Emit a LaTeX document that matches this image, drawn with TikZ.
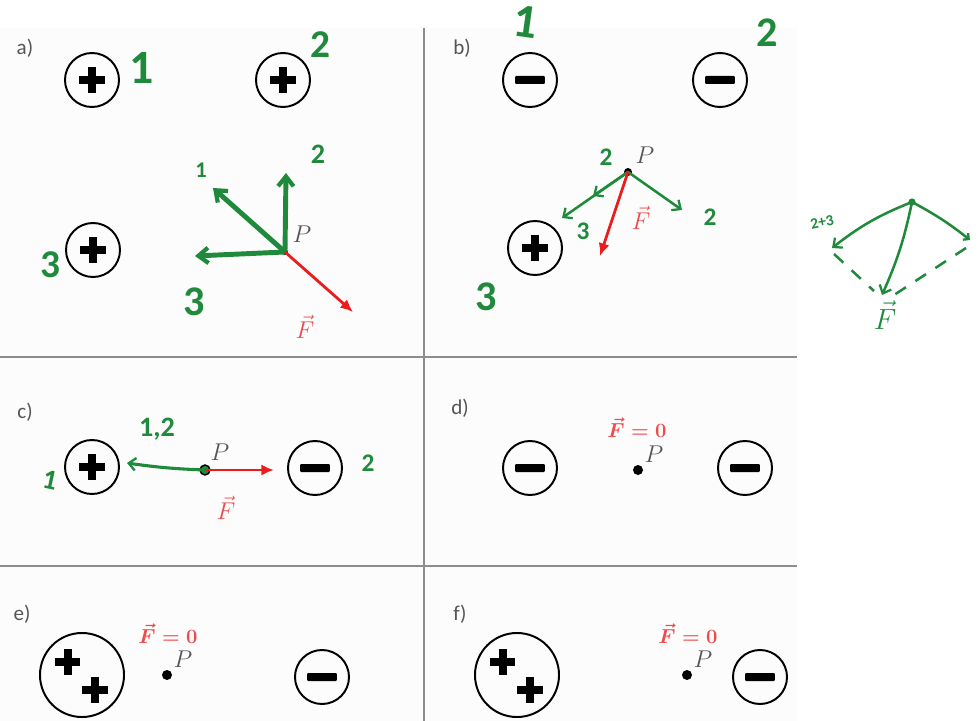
\documentclass[tikz,border=0pt]{standalone}
\usepackage{fontspec}
\setsansfont{Carlito}
\usepackage{amsmath}
\usepackage{xcolor}
\definecolor{penGreen}{HTML}{1F8A3B}
\definecolor{forceRed}{HTML}{EC1C1C}
\definecolor{labelRed}{HTML}{EE4B4B}
\definecolor{inkGray}{HTML}{555555}
\definecolor{frameGray}{HTML}{8C8C8C}
\definecolor{panelGray}{HTML}{FCFCFC}
\usepackage{tikz}
\usetikzlibrary{arrows.meta, calc}

% sign marks drawn inside the charges
\newcommand{\plusmark}[1]{%
  \fill[black] (#1) ++(-0.32cm,-0.1cm) rectangle ++(0.64cm,0.2cm);
  \fill[black] (#1) ++(-0.1cm,-0.32cm) rectangle ++(0.2cm,0.64cm);}
\newcommand{\minusmark}[1]{%
  \fill[black, rounded corners=0.6pt] (#1) ++(-0.37cm,-0.1cm) rectangle ++(0.74cm,0.2cm);}

\tikzset{
    % Base style for all charges
    charge/.style={
        circle,
        draw=black,
        line width=1.4pt,
        minimum size=1.35cm,
        inner sep=0pt,
    },
    % Positive charge
    poscharge/.style={
        charge,
        path picture={\plusmark{path picture bounding box.center}},
    },
    % Negative charge
    negcharge/.style={
        charge,
        path picture={\minusmark{path picture bounding box.center}},
    },
    % Double positive charge
    twincharge/.style={
        charge,
        minimum size=2.1cm,
        path picture={
            \plusmark{$(path picture bounding box.center)+(-0.36cm,0.33cm)$}
            \plusmark{$(path picture bounding box.center)+(0.33cm,-0.37cm)$}
        },
    },
    % Test point P
    point/.style={
        circle,
        fill=black,
        minimum size=0.25cm,
        inner sep=0pt,
    },
    ringpoint/.style={
        point,
        draw=black,
        fill=penGreen,
        line width=1pt,
    },
    % Panel tags a) ... f)
    tag/.style={
        font=\sffamily\fontsize{15}{17}\selectfont,
        text=inkGray,
        inner sep=1pt,
    },
    plabel/.style={
        font=\fontsize{16}{18}\selectfont,
        text=inkGray,
        inner sep=0.5pt,
    },
    fvec/.style={
        font=\fontsize{15}{17}\selectfont\boldmath,
        text=labelRed,
        inner sep=0.5pt,
    },
    % Handwritten numbers
    digit/.style={
        font=\sffamily\bfseries\fontsize{20}{22}\selectfont,
        text=penGreen,
        inner sep=1pt,
    },
    big digit/.style={
        digit,
        font=\sffamily\bfseries\fontsize{34}{36}\selectfont,
    },
    % Green pen arrows
    pen arrow/.style={
        -{Straight Barb[length=7pt, width=11pt, line width=3pt]},
        line width=3.5pt,
        draw=penGreen,
        line cap=round,
        line join=round,
    },
    thin pen/.style={
        -{Straight Barb[length=5pt, width=9pt, line width=1.6pt]},
        line width=1.8pt,
        draw=penGreen,
        line cap=round,
    },
    pen dashed/.style={
        line width=1.8pt,
        draw=penGreen,
        dash pattern=on 9pt off 8pt,
    },
    % Resultant force
    force/.style={
        -{Latex[length=9pt, width=8pt]},
        line width=2pt,
        draw=forceRed,
    },
    frame/.style={
        line width=1.5pt,
        draw=frameGray,
    },
}

\begin{document}
\begin{tikzpicture}[x=0.025cm, y=-0.025cm]
    \useasboundingbox (0,0) rectangle (979,721);
    \fill[panelGray] (0,28) rectangle (797,721);
    \draw[frame] (424,28) -- (424,721);
    \draw[frame] (0,357) -- (797,357);
    \draw[frame] (0,566) -- (797,566);

    % a)
    \node (taga) [tag] at (25,48) {a)};
    \node (a1) [poscharge] at (92,80) {};
    \node (a2) [poscharge] at (283,80) {};
    \node (a3) [poscharge] at (93,250) {};
    \node (aP) [point, minimum size=0.15cm] at (285,252) {};
    \node (aPl) [plabel] at (302,234) {$P$};
    \node (a1n) [big digit] at (142,68) {1};
    \node (a2n) [digit, font=\sffamily\bfseries\fontsize{28}{30}\selectfont] at (320,45) {2};
    \node (a3n) [digit, font=\sffamily\bfseries\fontsize{28}{30}\selectfont] at (50,265) {3};
    \coordinate (aE1) at (213,188);
    \coordinate (aE2) at (286,173);
    \coordinate (aE3) at (195,256);
    \coordinate (aF) at (353,312);
    \node (aE1n) [digit, font=\sffamily\bfseries\fontsize{16}{18}\selectfont] at (201,170) {1};
    \node (aE2n) [digit] at (318,154) {2};
    \node (aE3n) [digit, font=\sffamily\bfseries\fontsize{30}{32}\selectfont] at (194,302) {3};
    \node (aFl) [fvec, font=\fontsize{16}{18}\selectfont] at (305,327) {$\vec{F}$};
    \draw [pen arrow] (aP.center) -- (aE1);
    \draw [pen arrow] (aP.center) -- (aE2);
    \draw [pen arrow] (aP.center) -- (aE3);
    \draw [force] (aP.center) -- (aF);

    % b)
    \node (tagb) [tag] at (462,48) {b)};
    \node (b1) [negcharge] at (530,80) {};
    \node (b2) [negcharge] at (720,80) {};
    \node (b3) [poscharge] at (535,248) {};
    \node (bP) [point, minimum size=0.2cm] at (628,172) {};
    \node (bPl) [plabel] at (645,155) {$P$};
    \node (b1n) [big digit, rotate=-8] at (526,22) {1};
    \node (b2n) [big digit, font=\sffamily\bfseries\fontsize{30}{32}\selectfont] at (767,33) {2};
    \node (b3n) [big digit, font=\sffamily\bfseries\fontsize{30}{32}\selectfont] at (486,297) {3};
    \coordinate (bE2) at (593,196);
    \coordinate (bE3) at (562,218);
    \coordinate (bE1) at (682,210);
    \coordinate (bF) at (600,256);
    \draw [thin pen] (bP.center) -- (bE2);
    \draw [thin pen] (bP.center) -- (bE3);
    \draw [thin pen] (bP.center) -- (bE1);
    \draw [force] (bP.center) -- (bF);
    \node (bE2n) [digit, font=\sffamily\bfseries\fontsize{18}{20}\selectfont] at (606,157) {2};
    \node (bE3n) [digit, font=\sffamily\bfseries\fontsize{18}{20}\selectfont] at (583,231) {3};
    \node (bE1n) [digit, font=\sffamily\bfseries\fontsize{18}{20}\selectfont] at (710,217) {2};
    \node (bFl) [fvec, font=\fontsize{16}{18}\selectfont] at (641,218) {$\vec{F}$};

    % sketch of the sum in b)
    \node (sP) [point, fill=penGreen, minimum size=0.18cm] at (912,202) {};
    \coordinate (sL) at (832,248);
    \coordinate (sR) at (970,240);
    \coordinate (sD) at (882,295);
    \draw [thin pen] (sP.center) to[bend right=8] (sL);
    \draw [thin pen] (sP.center) to[bend left=6] (sD);
    \draw [thin pen, -{Straight Barb[length=3pt, width=6pt, line width=1.6pt]}] (sP.center) to[bend left=5] (sR);
    \draw [pen dashed] ($(sL)+(2,6)$) -- ($(sD)+(-8,-4)$);
    \draw [pen dashed] ($(sR)+(-4,8)$) -- ($(sD)+(12,0)$);
    \node (sLn) [digit, font=\sffamily\bfseries\fontsize{11}{12}\selectfont, rotate=12] at (822,222) {2+3};
    \node (sFl) [digit, font=\sffamily\fontsize{22}{24}\selectfont] at (885,315) {$\vec{F}$};

    % c)
    \node (tagc) [tag] at (25,412) {c)};
    \node (c1) [poscharge] at (92,467) {};
    \node (c2) [negcharge] at (315,468) {};
    \node (cP) [ringpoint] at (205,470) {};
    \node (cPl) [plabel] at (220,452) {$P$};
    \coordinate (cE) at (127,463);
    \coordinate (cF) at (274,470);
    \draw [thin pen, line width=2.2pt] (cP.center) to[bend left=3] (cE);
    \draw [force] (cP.center) -- (cF);
    \node (cEn) [digit] at (157,429) {1,2};
    \node (c1n) [digit, rotate=-12] at (50,480) {1};
    \node (c2n) [digit, font=\sffamily\bfseries\fontsize{18}{20}\selectfont] at (368,463) {2};
    \node (cFl) [fvec, font=\fontsize{16}{18}\selectfont] at (226,508) {$\vec{F}$};

    % d)
    \node (tagd) [tag] at (460,408) {d)};
    \node (d1) [negcharge] at (530,468) {};
    \node (d2) [negcharge] at (745,468) {};
    \node (dP) [point] at (638,470) {};
    \node (dPl) [plabel] at (654,454) {$P$};
    \node (dFl) [fvec] at (637,428) {$\vec{F}=0$};

    % e)
    \node (tage) [tag] at (22,614) {e)};
    \node (e1) [twincharge] at (82,675) {};
    \node (e2) [negcharge] at (322,677) {};
    \node (eP) [point] at (167,675) {};
    \node (ePl) [plabel] at (183,659) {$P$};
    \node (eFl) [fvec] at (168,634) {$\vec{F}=0$};

    % f)
    \node (tagf) [tag] at (460,614) {f)};
    \node (f1) [twincharge] at (517,675) {};
    \node (f2) [negcharge] at (760,677) {};
    \node (fP) [point] at (687,675) {};
    \node (fPl) [plabel] at (703,659) {$P$};
    \node (fFl) [fvec] at (688,634) {$\vec{F}=0$};
\end{tikzpicture}
\end{document}
